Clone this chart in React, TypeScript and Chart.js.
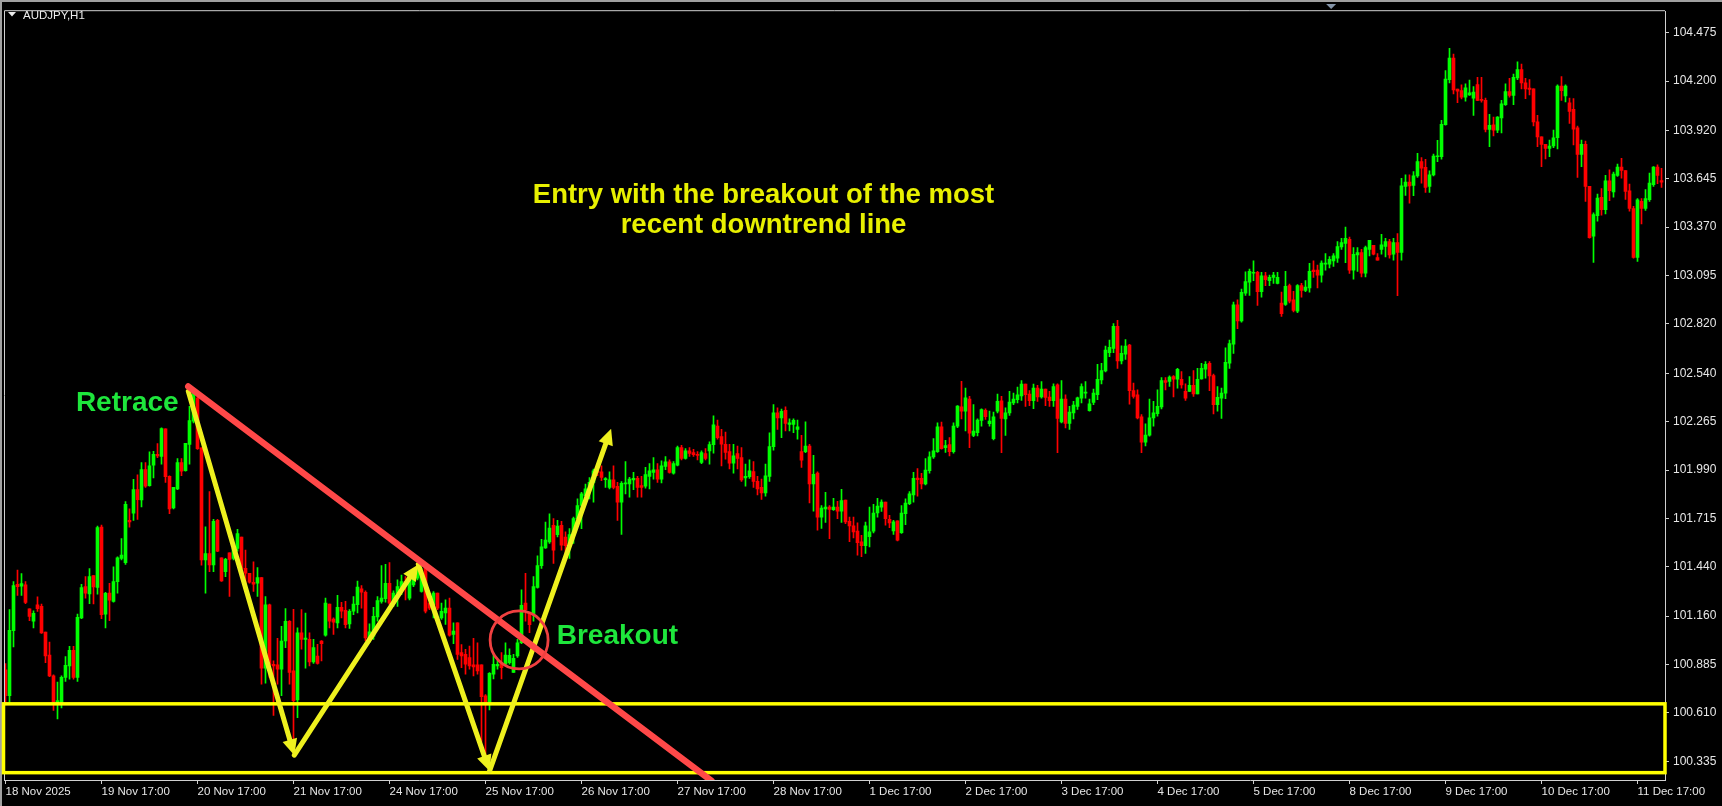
import React, { useEffect, useRef } from 'react';
import { Chart, registerables } from 'chart.js';
Chart.register(...registerables);

// ---- candle data (AUDJPY H1), one entry per bar ----
const opens = [
100.855,100.708,101.078,101.341,101.330,101.338,101.202,101.131,101.225,101.216,
101.069,100.939,100.821,100.665,100.671,100.812,100.877,100.966,100.812,101.150,
101.328,101.287,101.390,101.323,101.666,101.172,101.291,101.244,101.356,101.488,
101.464,101.704,101.745,101.879,101.820,101.993,101.901,102.018,102.080,102.067,
102.224,101.954,101.775,101.883,102.033,101.986,102.136,102.268,102.399,102.117,
101.479,101.516,101.451,101.704,101.492,101.413,101.520,101.488,101.545,101.610,
101.432,101.404,101.353,101.347,101.379,100.864,101.225,100.887,100.883,100.859,
101.019,101.131,100.849,100.684,101.065,101.028,101.028,100.900,100.934,101.019,
101.052,101.229,101.144,101.122,101.210,101.193,101.116,101.188,101.225,101.315,
101.295,101.037,101.047,101.156,101.244,101.259,101.347,101.234,101.291,101.323,
101.357,101.263,101.338,101.376,101.300,101.432,101.235,101.225,101.291,101.150,
101.178,101.206,101.056,101.122,100.953,100.943,100.925,100.883,100.883,100.883,
100.707,100.671,100.830,100.878,100.891,100.887,100.896,100.840,100.934,101.009,
101.235,101.178,101.169,101.323,101.447,101.548,101.582,101.676,101.623,101.676,
101.610,101.573,101.620,101.714,101.789,101.845,101.883,101.920,101.986,101.980,
101.935,101.892,101.935,101.898,101.808,101.911,101.911,101.934,101.943,101.902,
101.898,101.954,101.977,101.992,101.939,102.011,102.037,101.973,102.018,102.118,
102.056,102.099,102.089,102.080,102.033,102.084,102.099,102.135,102.240,102.180,
102.137,102.095,102.029,102.084,102.061,101.945,101.952,101.982,101.926,101.892,
101.860,101.954,102.123,102.315,102.287,102.330,102.249,102.249,102.221,102.095,
102.095,102.127,101.911,101.973,101.723,101.770,101.780,101.765,101.780,101.757,
101.819,101.699,101.673,101.643,101.583,101.560,101.611,101.643,101.746,101.780,
101.808,101.710,101.645,101.701,101.635,101.742,101.799,101.849,101.945,101.943,
101.911,101.987,102.065,102.094,102.236,102.118,102.135,102.094,102.240,102.349,
102.325,102.394,102.187,102.202,102.272,102.330,102.253,102.169,102.325,102.384,
102.281,102.315,102.371,102.390,102.412,102.478,102.422,102.384,102.456,102.405,
102.450,102.405,102.384,102.474,102.264,102.394,102.255,102.315,102.352,102.399,
102.427,102.328,102.375,102.418,102.502,102.553,102.657,102.681,102.807,102.610,
102.649,102.700,102.442,102.418,102.292,102.149,102.189,102.287,102.311,102.349,
102.499,102.493,102.521,102.506,102.506,102.437,102.437,102.471,102.422,102.508,
102.563,102.597,102.527,102.362,102.399,102.427,102.597,102.706,102.929,102.837,
102.995,103.057,103.108,103.113,103.004,103.094,103.066,103.085,103.051,102.939,
102.931,103.038,102.957,102.893,103.038,103.010,103.025,103.126,103.126,103.098,
103.160,103.160,103.179,103.194,103.258,103.278,103.301,103.126,103.213,103.226,
103.109,103.244,103.267,103.197,103.244,103.261,103.288,103.216,103.282,103.226,
103.601,103.626,103.607,103.661,103.742,103.710,103.601,103.667,103.770,103.770,
103.952,104.208,104.330,104.155,104.146,104.108,104.122,104.103,104.180,104.095,
104.090,103.926,103.952,103.921,103.990,104.066,104.141,104.118,104.218,104.265,
104.190,104.160,104.156,103.968,103.883,103.840,103.818,103.831,103.878,104.171,
104.115,104.077,104.039,103.934,103.784,103.840,103.602,103.319,103.436,103.540,
103.470,103.634,103.570,103.664,103.711,103.692,103.577,103.476,103.198,103.517,
103.476,103.526,103.611,103.711,103.635
];

const highs = [
100.891,101.197,101.356,101.422,101.402,101.356,101.202,101.191,101.270,101.229,
101.069,101.013,100.827,100.785,100.821,100.930,100.988,100.988,101.172,101.341,
101.385,101.430,101.390,101.672,101.678,101.296,101.347,101.441,101.497,101.601,
101.811,101.770,101.937,101.963,102.033,102.033,102.093,102.097,102.140,102.230,
102.224,101.958,101.892,102.055,102.055,102.142,102.352,102.455,102.408,102.117,
101.667,101.868,101.710,101.710,101.492,101.488,101.520,101.550,101.653,101.610,
101.535,101.404,101.469,101.436,101.379,101.272,101.229,100.906,101.034,101.103,
101.203,101.135,101.199,101.094,101.197,101.178,101.065,101.028,101.000,101.022,
101.263,101.229,101.150,101.278,101.238,101.244,101.197,101.272,101.360,101.334,
101.304,101.116,101.210,101.272,101.447,101.454,101.464,101.304,101.366,101.394,
101.385,101.404,101.422,101.447,101.432,101.432,101.244,101.300,101.291,101.235,
101.253,101.263,101.122,101.122,100.999,100.971,100.990,101.034,101.009,100.883,
100.714,100.840,100.943,100.910,100.953,101.009,100.975,100.943,101.028,101.310,
101.404,101.178,101.385,101.503,101.597,101.695,101.742,101.714,101.704,101.699,
101.639,101.657,101.723,101.826,101.864,101.911,101.948,101.995,102.014,102.014,
101.948,101.980,102.014,101.920,101.924,102.039,101.949,101.977,101.954,101.954,
102.005,102.027,102.061,102.027,102.042,102.067,102.048,102.039,102.127,102.131,
102.112,102.118,102.108,102.095,102.099,102.112,102.150,102.298,102.274,102.221,
102.206,102.137,102.137,102.127,102.118,102.024,102.048,102.039,101.954,101.939,
102.024,102.202,102.362,102.343,102.337,102.349,102.281,102.281,102.274,102.187,
102.264,102.137,102.074,101.980,101.789,101.864,101.789,101.830,101.812,101.881,
101.819,101.723,101.723,101.690,101.620,101.695,101.780,101.795,101.830,101.821,
101.808,101.733,101.705,101.701,101.789,101.827,101.868,101.977,101.999,101.971,
102.056,102.094,102.169,102.259,102.263,102.159,102.174,102.259,102.357,102.494,
102.456,102.409,102.362,102.281,102.338,102.338,102.325,102.319,102.422,102.409,
102.343,102.437,102.427,102.461,102.499,102.478,102.442,102.478,102.471,102.493,
102.450,102.437,102.480,102.480,102.499,102.418,102.352,102.380,102.405,102.480,
102.493,102.394,102.450,102.591,102.596,102.694,102.728,102.822,102.841,102.696,
102.732,102.705,102.484,102.446,102.305,102.253,102.394,102.380,102.446,102.516,
102.516,102.525,102.527,102.568,102.550,102.480,102.521,102.555,102.568,102.597,
102.606,102.606,102.535,102.465,102.456,102.685,102.728,102.944,102.957,103.019,
103.117,103.132,103.179,103.119,103.113,103.113,103.098,103.113,103.113,103.001,
103.119,103.047,103.006,103.044,103.051,103.066,103.164,103.179,103.155,103.179,
103.220,103.203,103.220,103.288,103.306,103.370,103.314,103.254,103.254,103.244,
103.263,103.295,103.267,103.220,103.329,103.306,103.301,103.306,103.333,103.648,
103.667,103.667,103.686,103.789,103.765,103.755,103.690,103.785,103.864,103.977,
104.259,104.386,104.353,104.155,104.178,104.184,104.206,104.169,104.221,104.221,
104.103,104.011,103.996,103.999,104.090,104.184,104.216,104.240,104.310,104.297,
104.216,104.208,104.156,104.005,103.883,103.840,103.865,103.921,104.178,104.225,
104.178,104.103,104.100,103.945,103.865,103.859,103.602,103.452,103.558,103.589,
103.664,103.696,103.683,103.728,103.761,103.692,103.615,103.489,103.532,103.532,
103.583,103.677,103.714,103.724,103.705
];

const lows = [
100.661,100.671,100.986,101.278,101.278,101.231,101.135,101.093,101.187,101.062,
100.896,100.817,100.624,100.577,100.639,100.789,100.802,100.802,100.789,101.146,
101.263,101.231,101.229,101.285,101.146,101.093,101.135,101.240,101.291,101.479,
101.454,101.666,101.704,101.710,101.781,101.892,101.898,101.946,102.061,102.023,
101.920,101.742,101.770,101.879,101.958,101.984,102.023,102.258,102.108,101.450,
101.291,101.413,101.413,101.526,101.357,101.385,101.272,101.479,101.530,101.394,
101.347,101.347,101.300,101.272,100.774,100.780,100.812,100.596,100.774,100.709,
100.981,100.774,100.380,100.583,100.972,100.864,100.878,100.891,100.887,100.906,
101.047,101.094,101.056,101.094,101.150,101.094,101.090,101.169,101.178,101.206,
101.019,101.009,101.028,101.131,101.234,101.240,101.225,101.216,101.216,101.282,
101.253,101.253,101.328,101.366,101.297,101.178,101.197,101.150,101.197,101.141,
101.113,101.047,101.004,100.915,100.868,100.831,100.859,100.821,100.831,100.446,
100.323,100.628,100.803,100.859,100.803,100.878,100.887,100.840,100.925,101.004,
101.131,101.066,101.131,101.319,101.432,101.545,101.573,101.460,101.610,101.535,
101.507,101.488,101.573,101.695,101.657,101.808,101.826,101.808,101.958,101.930,
101.892,101.883,101.883,101.704,101.624,101.855,101.836,101.879,101.836,101.836,
101.887,101.883,101.939,101.920,101.917,101.992,101.973,101.967,102.014,102.048,
102.052,102.067,102.067,102.048,102.027,102.048,102.024,102.086,102.165,102.014,
102.052,101.996,101.973,101.996,101.926,101.898,101.943,101.892,101.849,101.823,
101.842,101.926,102.103,102.221,102.174,102.212,102.212,102.202,102.165,102.005,
102.089,101.804,101.757,101.648,101.658,101.692,101.601,101.761,101.714,101.692,
101.686,101.583,101.605,101.507,101.498,101.517,101.554,101.633,101.723,101.755,
101.677,101.663,101.624,101.588,101.630,101.680,101.793,101.808,101.842,101.883,
101.906,101.973,102.056,102.090,102.109,102.090,102.071,102.086,102.231,102.281,
102.212,102.118,102.180,102.184,102.240,102.278,102.240,102.161,102.315,102.089,
102.187,102.300,102.362,102.371,102.386,102.352,102.356,102.339,102.380,102.399,
102.356,102.352,102.352,102.089,102.258,102.230,102.221,102.281,102.334,102.371,
102.399,102.324,102.362,102.390,102.480,102.548,102.634,102.657,102.568,102.593,
102.619,102.365,102.399,102.281,102.089,102.127,102.183,102.240,102.296,102.337,
102.446,102.465,102.405,102.456,102.456,102.386,102.437,102.409,102.422,102.506,
102.512,102.441,102.309,102.324,102.283,102.396,102.568,102.653,102.794,102.831,
102.982,102.982,103.066,102.925,102.972,103.038,103.038,103.051,103.047,102.863,
102.925,102.939,102.888,102.884,102.972,103.004,103.001,103.085,103.025,103.057,
103.126,103.138,103.147,103.170,103.244,103.169,103.107,103.075,103.118,103.088,
103.088,103.207,103.212,103.182,103.216,103.201,103.194,103.182,102.981,103.182,
103.551,103.507,103.549,103.652,103.620,103.567,103.567,103.661,103.742,103.757,
103.949,104.189,104.127,104.077,104.099,104.086,104.118,104.005,104.088,104.080,
103.911,103.827,103.889,103.907,103.906,104.062,104.109,104.066,104.208,104.156,
104.100,104.122,103.945,103.827,103.714,103.758,103.771,103.822,103.814,104.090,
104.081,103.959,103.837,103.652,103.714,103.517,103.307,103.170,103.404,103.438,
103.446,103.521,103.540,103.658,103.649,103.527,103.461,103.194,103.175,103.389,
103.465,103.517,103.602,103.617,103.596
];

const closes = [
100.708,101.080,101.334,101.328,101.345,101.238,101.159,101.176,101.202,101.065,
100.934,100.821,100.671,100.680,100.812,100.881,100.966,100.812,101.154,101.323,
101.291,101.385,101.326,101.663,101.169,101.290,101.251,101.356,101.492,101.507,
101.796,101.695,101.879,101.822,101.993,101.898,102.014,102.080,102.070,102.226,
101.952,101.770,101.892,102.033,101.984,102.142,102.271,102.424,102.112,101.479,
101.516,101.451,101.699,101.529,101.360,101.483,101.483,101.545,101.629,101.432,
101.404,101.353,101.342,101.379,100.864,101.225,100.887,100.878,100.859,101.019,
101.131,100.840,100.680,101.065,101.028,101.035,100.900,100.981,100.891,101.004,
101.235,101.131,101.126,101.210,101.188,101.112,101.188,101.229,101.325,101.297,
101.037,101.071,101.159,101.248,101.263,101.347,101.234,101.291,101.328,101.357,
101.338,101.385,101.404,101.432,101.394,101.188,101.206,101.291,101.206,101.187,
101.206,101.052,101.075,100.943,100.934,100.887,100.878,100.872,100.849,100.703,
100.671,100.835,100.887,100.887,100.868,100.939,100.937,100.921,101.009,101.222,
101.197,101.112,101.328,101.447,101.554,101.592,101.661,101.535,101.672,101.563,
101.560,101.623,101.714,101.789,101.855,101.883,101.920,101.986,101.977,101.948,
101.942,101.935,101.892,101.808,101.915,101.917,101.939,101.943,101.892,101.892,
101.964,101.986,101.992,101.939,102.014,102.037,101.977,102.027,102.118,102.056,
102.099,102.084,102.078,102.074,102.089,102.056,102.135,102.247,102.174,102.137,
102.090,102.029,102.071,102.056,101.934,101.954,101.986,101.926,101.883,101.860,
101.958,102.123,102.315,102.287,102.324,102.255,102.259,102.272,102.236,102.046,
102.127,101.911,101.966,101.723,101.774,101.780,101.767,101.780,101.757,101.817,
101.695,101.673,101.639,101.577,101.560,101.673,101.639,101.746,101.785,101.808,
101.714,101.690,101.696,101.592,101.746,101.802,101.855,101.943,101.936,101.911,
101.990,102.065,102.099,102.236,102.112,102.129,102.094,102.240,102.353,102.325,
102.400,102.199,102.212,102.274,102.334,102.293,102.268,102.293,102.381,102.283,
102.315,102.377,102.394,102.418,102.478,102.418,102.384,102.456,102.405,102.450,
102.403,102.384,102.465,102.283,102.394,102.255,102.320,102.360,102.400,102.465,
102.433,102.366,102.427,102.506,102.555,102.672,102.687,102.807,102.610,102.653,
102.694,102.441,102.409,102.286,102.149,102.189,102.287,102.315,102.352,102.499,
102.488,102.518,102.506,102.563,102.474,102.399,102.471,102.422,102.506,102.568,
102.591,102.525,102.362,102.403,102.427,102.602,102.709,102.929,102.837,103.000,
103.061,103.119,103.113,103.004,103.094,103.072,103.085,103.098,103.085,102.878,
103.034,102.950,102.897,103.038,103.010,103.029,103.119,103.117,103.098,103.166,
103.166,103.188,103.207,103.260,103.282,103.306,103.126,103.216,103.226,103.109,
103.254,103.295,103.216,103.182,103.269,103.288,103.212,103.282,103.226,103.605,
103.626,103.605,103.661,103.742,103.705,103.596,103.667,103.774,103.776,103.954,
104.212,104.330,104.150,104.142,104.108,104.161,104.133,104.137,104.090,104.090,
103.926,103.949,103.921,103.996,104.071,104.141,104.118,104.222,104.265,104.190,
104.156,104.152,103.968,103.883,103.840,103.818,103.831,103.878,104.171,104.146,
104.171,104.028,103.927,103.784,103.840,103.602,103.310,103.442,103.536,103.470,
103.634,103.577,103.671,103.711,103.692,103.573,103.476,103.198,103.526,103.476,
103.532,103.620,103.711,103.664,103.626
];

// ---- axis labels ----
const dateLabels = [
  '18 Nov 2025', '19 Nov 17:00', '20 Nov 17:00', '21 Nov 17:00', '24 Nov 17:00',
  '25 Nov 17:00', '26 Nov 17:00', '27 Nov 17:00', '28 Nov 17:00', '1 Dec 17:00',
  '2 Dec 17:00', '3 Dec 17:00', '4 Dec 17:00', '5 Dec 17:00', '8 Dec 17:00',
  '9 Dec 17:00', '10 Dec 17:00', '11 Dec 17:00',
];
const barsPerLabel = 24;
const priceLabels = [
  '100.335', '100.610', '100.885', '101.160', '101.440', '101.715', '101.990', '102.265',
  '102.540', '102.820', '103.095', '103.370', '103.645', '103.920', '104.200', '104.475',
];
const symbolTitle = 'AUDJPY,H1';

// ---- annotations (bar index, price) ----
const zigzagIdx = [45.7, 72.2, 103.2, 121.0, 151.4];
const zigzagPrice = [102.437, 100.370, 101.454, 100.280, 102.225];
const trendIdx = [45.7, 176.5];
const trendPrice = [102.465, 100.225];
const zoneTop = 100.662;
const zoneBottom = 100.271;
const circleIdx = 128.4;
const circlePrice = 101.025;
const retraceText = { text: 'Retrace', idx: 17.6, price: 102.324 };
const breakoutText = { text: 'Breakout', idx: 137.8, price: 101.0 };
const entryLines = ['Entry with the breakout of the most', 'recent downtrend line'];
const entryIdx = 189.5;
const entryPrices = [103.508, 103.339];
const shiftMarkerIdx = 331.4;

const UP = '#00ff00';
const DOWN = '#ff0000';
const AXIS_COLOR = '#d0d0d0';
const LABEL_COLOR = '#e6e6e6';
const YELLOW = '#eef01e';
const TREND_RED = '#ff4848';
const TEXT_GREEN = '#1ee63c';
const TEXT_YELLOW = '#e8f000';

function drawArrow(ctx: CanvasRenderingContext2D, x1: number, y1: number, x2: number, y2: number, headLen: number, headHalf: number) {
  const dx = x2 - x1, dy = y2 - y1;
  const len = Math.hypot(dx, dy);
  const ux = dx / len, uy = dy / len;
  const bx = x2 - ux * headLen, by = y2 - uy * headLen;
  ctx.beginPath();
  ctx.moveTo(x1, y1);
  ctx.lineTo(bx + ux * 2, by + uy * 2);
  ctx.stroke();
  ctx.beginPath();
  ctx.moveTo(x2, y2);
  ctx.lineTo(bx - uy * headHalf, by + ux * headHalf);
  ctx.lineTo(bx + uy * headHalf, by - ux * headHalf);
  ctx.closePath();
  ctx.fill();
}

const overlayPlugin = {
  id: 'overlay',
  beforeDraw(chart: any) {
    const ctx: CanvasRenderingContext2D = chart.ctx;
    ctx.save();
    ctx.fillStyle = '#000';
    ctx.fillRect(0, 0, chart.width, chart.height);
    ctx.fillStyle = '#a0a0a0';
    ctx.fillRect(0, 0, chart.width, 2);
    ctx.fillRect(0, 0, 2, chart.height);
    ctx.restore();
  },
  afterDatasetsDraw(chart: any) {
    const ctx: CanvasRenderingContext2D = chart.ctx;
    const xs = chart.scales.x, ys = chart.scales.y;
    const area = chart.chartArea;
    const px = (v: number) => xs.getPixelForValue(v);
    const py = (v: number) => ys.getPixelForValue(v);
    ctx.save();

    // frame (top + left)
    ctx.strokeStyle = AXIS_COLOR;
    ctx.lineWidth = 1;
    ctx.beginPath();
    ctx.moveTo(area.left + 0.5, area.bottom);
    ctx.lineTo(area.left + 0.5, area.top - 0.5);
    ctx.lineTo(area.right, area.top - 0.5);
    ctx.stroke();

    // support zone rectangle
    ctx.strokeStyle = '#ffff00';
    ctx.lineWidth = 3.5;
    const zt = py(zoneTop), zb = py(zoneBottom);
    ctx.strokeRect(area.left - 0.5, zt, area.right - area.left + 0.5, zb - zt);

    // clip to plot area for lines
    ctx.save();
    ctx.beginPath();
    ctx.rect(area.left, area.top, area.right - area.left, area.bottom - area.top);
    ctx.clip();

    // yellow zigzag with arrows
    ctx.strokeStyle = YELLOW;
    ctx.fillStyle = YELLOW;
    ctx.lineWidth = 5;
    ctx.lineCap = 'round';
    for (let k = 0; k < zigzagIdx.length - 1; k++) {
      drawArrow(ctx, px(zigzagIdx[k]), py(zigzagPrice[k]), px(zigzagIdx[k + 1]), py(zigzagPrice[k + 1]), 16, 7.5);
    }

    // red downtrend line
    ctx.strokeStyle = TREND_RED;
    ctx.lineWidth = 6.5;
    ctx.lineCap = 'round';
    ctx.beginPath();
    ctx.moveTo(px(trendIdx[0]), py(trendPrice[0]));
    ctx.lineTo(px(trendIdx[1]), py(trendPrice[1]));
    ctx.stroke();

    // breakout circle
    ctx.strokeStyle = '#f04040';
    ctx.lineWidth = 2.8;
    ctx.beginPath();
    ctx.arc(px(circleIdx), py(circlePrice), 29, 0, Math.PI * 2);
    ctx.stroke();
    ctx.restore();

    // texts
    ctx.textBaseline = 'alphabetic';
    ctx.font = "bold 28px 'Liberation Sans', Arial, sans-serif";
    ctx.fillStyle = TEXT_GREEN;
    ctx.textAlign = 'left';
    ctx.fillText(retraceText.text, px(retraceText.idx), py(retraceText.price));
    ctx.fillText(breakoutText.text, px(breakoutText.idx), py(breakoutText.price));
    ctx.font = "bold 27.5px 'Liberation Sans', Arial, sans-serif";
    ctx.fillStyle = TEXT_YELLOW;
    ctx.textAlign = 'center';
    entryLines.forEach((t, k) => ctx.fillText(t, px(entryIdx), py(entryPrices[k])));

    // title
    ctx.fillStyle = '#ececec';
    ctx.beginPath();
    ctx.moveTo(8, 12);
    ctx.lineTo(16, 12);
    ctx.lineTo(12, 16.5);
    ctx.closePath();
    ctx.fill();
    ctx.font = "11.5px 'Liberation Sans', Arial, sans-serif";
    ctx.textAlign = 'left';
    ctx.fillText(symbolTitle, 23, 19);

    // shift marker
    const sx = px(shiftMarkerIdx);
    ctx.fillStyle = '#8494a8';
    ctx.beginPath();
    ctx.moveTo(sx - 5, 4);
    ctx.lineTo(sx + 5, 4);
    ctx.lineTo(sx, 9);
    ctx.closePath();
    ctx.fill();

    ctx.restore();
  },
};

export default function App() {
  const ref = useRef<HTMLCanvasElement>(null);
  useEffect(() => {
    document.body.style.margin = '0';
    document.body.style.background = '#000';
    const colors = closes.map((c, i) => (c >= opens[i] ? UP : DOWN));
    const bodyData = opens.map((o, i) => ({ x: i, y: [Math.min(o, closes[i]), Math.max(o, closes[i])] }));
    const wickData = highs.map((h, i) => ({ x: i, y: [lows[i], h] }));
    const chart = new Chart(ref.current as HTMLCanvasElement, {
      type: 'bar',
      data: {
        datasets: [
          { data: bodyData as any, backgroundColor: colors, borderWidth: 0, barThickness: 3, grouped: false, minBarLength: 1 } as any,
          { data: wickData as any, backgroundColor: colors, borderWidth: 0, barThickness: 1, grouped: false, minBarLength: 1 } as any,
        ],
      },
      options: {
        animation: false,
        responsive: false,
        maintainAspectRatio: false,
        events: [],
        layout: { padding: { left: 4, top: 5, right: 0, bottom: 0 } },
        plugins: { legend: { display: false }, tooltip: { enabled: false } },
        scales: {
          x: {
            type: 'linear',
            min: -0.375,
            max: 414.875,
            offset: false,
            afterBuildTicks: (s: any) => {
              s.ticks = dateLabels.map((_, k) => ({ value: k * barsPerLabel }));
            },
            afterFit: (s: any) => { s.height = 26; },
            ticks: {
              autoSkip: false,
              maxRotation: 0,
              minRotation: 0,
              align: 'start',
              padding: 1,
              color: LABEL_COLOR,
              font: { family: "'Liberation Sans', Arial, sans-serif", size: 11.5 },
              callback: (v: any) => dateLabels[Math.round(Number(v) / barsPerLabel)] ?? '',
            },
            grid: { display: true, drawOnChartArea: false, drawTicks: true, tickLength: 4, color: AXIS_COLOR, offset: false },
            border: { display: true, color: AXIS_COLOR, width: 1 },
          } as any,
          y: {
            type: 'linear',
            position: 'right',
            min: 100.2293,
            max: 104.597,
            afterBuildTicks: (s: any) => {
              s.ticks = priceLabels.map((l) => ({ value: parseFloat(l) }));
            },
            afterFit: (s: any) => { s.width = 57; },
            ticks: {
              autoSkip: false,
              padding: 4,
              color: LABEL_COLOR,
              font: { family: "'Liberation Sans', Arial, sans-serif", size: 12 },
              callback: (_v: any, idx: number) => priceLabels[idx],
            },
            grid: { display: true, drawOnChartArea: false, drawTicks: true, tickLength: 4, color: AXIS_COLOR },
            border: { display: true, color: AXIS_COLOR, width: 1 },
          } as any,
        },
      },
      plugins: [overlayPlugin],
    });
    return () => chart.destroy();
  }, []);
  return (
    <div style={{ position: 'fixed', left: 0, top: 0, width: 1722, height: 806, background: '#000' }}>
      <canvas ref={ref} width={1722} height={806} style={{ display: 'block', width: 1722, height: 806 }} />
    </div>
  );
}
